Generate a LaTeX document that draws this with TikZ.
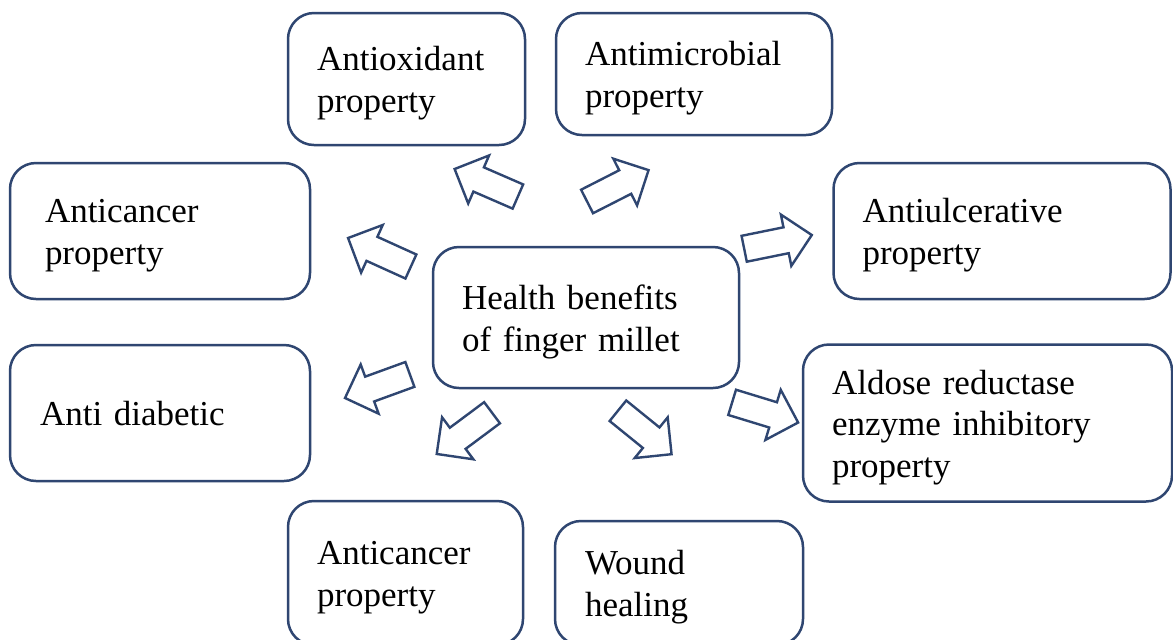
\documentclass[tikz,border=0pt]{standalone}
\usepackage{fontspec}
\setmainfont{Liberation Serif}
\usetikzlibrary{shapes.arrows}
\definecolor{boxblue}{RGB}{47,70,113}

\begin{document}
\begin{tikzpicture}[x=0.5pt,y=-0.5pt,
  benefit/.style={draw=boxblue,line width=1.25pt,rounded corners=13pt,align=left,
    inner xsep=14.5pt,inner ysep=0pt,text height=16.5pt,font=\fontsize{17.5}{20.8}\selectfont},
  blockarrow/.style={single arrow,draw=boxblue,line width=1.2pt,inner sep=6pt,
    single arrow head extend=6.5pt,minimum height=34.5pt,anchor=tail}]
\useasboundingbox[fill=white] (0,0) rectangle (1173,639);
\clip (0,0) rectangle (1173,639);

% centre
\node[benefit,text width=124pt,minimum height=70.5pt] (millet) at (586,317.5)
  {Health benefits\\of finger millet};

% benefits round it
\node[benefit,text width=89.5pt,minimum height=66pt] (antiox) at (406.5,79)
  {Antioxidant\\property};
\node[benefit,text width=109pt,minimum height=61pt] (antimicro) at (694,74)
  {Antimicrobial\\property};
\node[benefit,inner xsep=17.5pt,text width=115pt,minimum height=68pt] (cancerleft) at (160,231)
  {Anticancer\\property};
\node[benefit,text width=139.5pt,minimum height=68pt] (ulcer) at (1002,231)
  {Antiulcerative\\property};
\node[benefit,inner xsep=15pt,text width=120pt,text height=12.5pt,minimum height=68pt] (diabetic) at (160,413)
  {Anti diabetic};
\node[benefit,text width=155.5pt,minimum height=78.5pt] (aldose) at (987.5,423)
  {Aldose reductase\\enzyme inhibitory\\property};
\node[benefit,text width=88.5pt,minimum height=72pt] (cancerbottom) at (405.5,573)
  {Anticancer\\property};
\node[benefit,inner xsep=15pt,text width=94pt,minimum height=62pt] (wound) at (679,583)
  {Wound\\healing};

% block arrows
\node[blockarrow,rotate=156.5] (toantiox) at (519,197) {};
\node[blockarrow,rotate=27] (toantimicro) at (586,202) {};
\node[blockarrow,rotate=155.6] (tocancerleft) at (412,267) {};
\node[blockarrow,rotate=11.5] (toulcer) at (743,249) {};
\node[blockarrow,rotate=200] (todiabetic) at (411,374) {};
\node[blockarrow,rotate=-17] (toaldose) at (731,402) {};
\node[blockarrow,rotate=216.7] (tocancerbottom) at (493,412) {};
\node[blockarrow,rotate=-39] (towound) at (617,410) {};
\end{tikzpicture}
\end{document}
